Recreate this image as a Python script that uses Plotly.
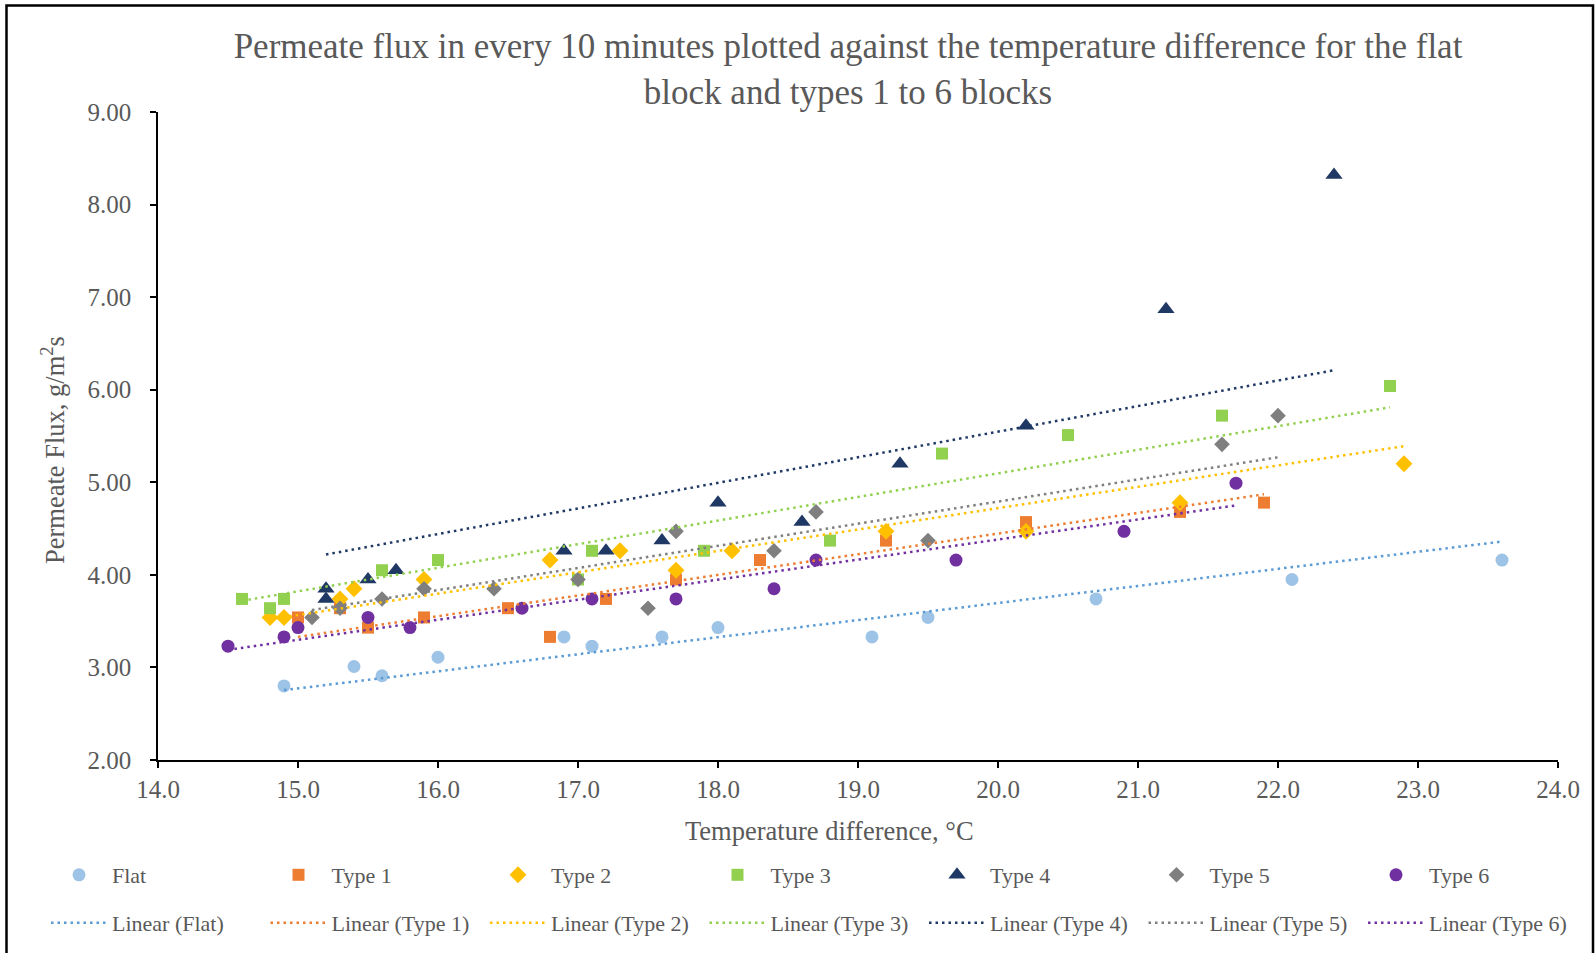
import plotly.graph_objects as go

# ---------------- data ----------------
series_names = ["Flat", "Type 1", "Type 2", "Type 3", "Type 4", "Type 5", "Type 6"]

flat_x = [14.9, 15.4, 15.6, 16.0, 16.9, 17.1, 17.6, 18.0, 19.1, 19.5, 20.7, 22.1, 23.6]
flat_y = [2.80, 3.01, 2.91, 3.11, 3.33, 3.23, 3.33, 3.43, 3.33, 3.54, 3.74, 3.95, 4.16]

type1_x = [15.0, 15.3, 15.5, 15.9, 16.5, 16.8, 17.2, 17.7, 18.3, 19.2, 20.2, 21.3, 21.9]
type1_y = [3.54, 3.64, 3.43, 3.54, 3.64, 3.33, 3.74, 3.95, 4.16, 4.37, 4.57, 4.68, 4.78]

type2_x = [14.8, 14.9, 15.3, 15.4, 15.9, 16.8, 17.3, 17.7, 18.1, 19.2, 20.2, 21.3, 22.9]
type2_y = [3.54, 3.54, 3.74, 3.85, 3.95, 4.16, 4.26, 4.05, 4.26, 4.47, 4.47, 4.78, 5.20]

type3_x = [14.6, 14.8, 14.9, 15.6, 16.0, 17.0, 17.1, 17.9, 18.8, 19.6, 20.5, 21.6, 22.8]
type3_y = [3.74, 3.64, 3.74, 4.05, 4.16, 3.95, 4.26, 4.26, 4.37, 5.31, 5.51, 5.72, 6.04]

type4_x = [15.2, 15.2, 15.5, 15.7, 16.9, 17.2, 17.6, 18.0, 18.6, 19.3, 20.2, 21.2, 22.4]
type4_y = [3.85, 3.74, 3.95, 4.05, 4.26, 4.26, 4.37, 4.78, 4.57, 5.20, 5.61, 6.87, 8.32]

type5_x = [15.1, 15.3, 15.6, 15.9, 16.4, 17.0, 17.5, 17.7, 18.4, 18.7, 19.5, 21.6, 22.0]
type5_y = [3.54, 3.64, 3.74, 3.85, 3.85, 3.95, 3.64, 4.47, 4.26, 4.68, 4.37, 5.41, 5.72]

type6_x = [14.5, 14.9, 15.0, 15.5, 15.8, 16.6, 17.1, 17.7, 18.4, 18.7, 19.7, 20.9, 21.7]
type6_y = [3.23, 3.33, 3.43, 3.54, 3.43, 3.64, 3.74, 3.74, 3.85, 4.16, 4.16, 4.47, 4.99]

# linear trendline values at the first and last x of each series
trend_start_y = [2.755, 3.33, 3.52, 3.72, 4.22, 3.62, 3.19]
trend_end_y = [4.36, 4.87, 5.39, 5.81, 6.21, 5.27, 4.75]

x_tick_vals = [14, 15, 16, 17, 18, 19, 20, 21, 22, 23, 24]
y_tick_vals = [2, 3, 4, 5, 6, 7, 8, 9]

title_text = ("Permeate flux in every 10 minutes plotted against the temperature difference for the flat"
              "<br>block and types 1 to 6 blocks")
x_title = "Temperature difference, °C"
y_title = "Permeate Flux, g/m<sup>2</sup>s"

# ---------------- styles ----------------
xs = [flat_x, type1_x, type2_x, type3_x, type4_x, type5_x, type6_x]
ys = [flat_y, type1_y, type2_y, type3_y, type4_y, type5_y, type6_y]
marker_colors = ["#9DC3E6", "#ED7D31", "#FFC000", "#92D050", "#1F3864", "#7F7F7F", "#7030A0"]
line_colors = ["#5B9BD5", "#ED7D31", "#FFC000", "#92D050", "#1F3864", "#7F7F7F", "#7030A0"]
symbols = ["circle", "square", "diamond", "square", "triangle-up", "diamond", "circle"]
sizes = [13, 12, 13, 12, 15, 12, 13]
# which legend box holds each column (two boxes per row)
marker_legends = ["legend", "legend", "legend", "legend", "legend3", "legend3", "legend3"]
line_legends = ["legend2", "legend2", "legend2", "legend2", "legend4", "legend4", "legend4"]

FONT = "Liberation Serif"
TXT = "#595959"

fig = go.Figure()

for name, x, y, c, s, sz, lg in zip(series_names, xs, ys, marker_colors, symbols, sizes, marker_legends):
    fig.add_trace(go.Scatter(
        x=x, y=y, mode="markers", name=name,
        marker=dict(color=c, symbol=s, size=sz, line=dict(width=0)),
        legend=lg,
    ))

for name, x, y0, y1, c, lg in zip(series_names, xs, trend_start_y, trend_end_y, line_colors, line_legends):
    fig.add_trace(go.Scatter(
        x=[min(x), max(x)], y=[y0, y1], mode="lines",
        name=f"Linear ({name})",
        line=dict(color=c, width=2.5, dash="2.5px,4px"),
        legend=lg,
    ))

# plot-area geometry (pixels)
W, H = 1595, 953
L, R, T, B = 158, 37, 112, 193
pw, ph = W - L - R, H - T - B

def px_x(px):
    return (px - L) / pw

def px_y(py):
    return (H - B - py) / ph

COL = 219.5  # legend column spacing in px

legend_common = dict(
    orientation="h", xref="container", yref="container",
    xanchor="left", yanchor="top",
    entrywidth=COL - 71, entrywidthmode="pixels", itemwidth=56,
    bgcolor="rgba(0,0,0,0)", borderwidth=0,
    font=dict(family=FONT, size=22, color=TXT),
)

fig.update_layout(
    width=W, height=H,
    margin=dict(l=L, r=R, t=T, b=B, autoexpand=False),
    paper_bgcolor="white", plot_bgcolor="white",
    font=dict(family=FONT, color=TXT),
    title=dict(
        text=title_text,
        x=848 / W, xref="container", xanchor="center",
        y=1 - 58 / H, yref="container", yanchor="top",
        font=dict(family=FONT, size=35, color=TXT),
    ),
    xaxis=dict(
        range=[14, 24], tickvals=x_tick_vals, tickformat=".1f",
        showgrid=False, zeroline=False,
        showline=True, linecolor="black", linewidth=1.5,
        ticks="outside", ticklen=6, tickcolor="black", tickwidth=1.5,
        tickfont=dict(family=FONT, size=25, color=TXT),
        ticklabelstandoff=0,
        automargin=False,
    ),
    yaxis=dict(
        range=[2, 9], tickvals=y_tick_vals, tickformat=".2f",
        showgrid=False, zeroline=False,
        showline=True, linecolor="black", linewidth=1.5,
        ticks="outside", ticklen=6, tickcolor="black", tickwidth=1.5,
        tickfont=dict(family=FONT, size=25, color=TXT),
        ticklabelstandoff=14,
        automargin=False,
    ),
    annotations=[
        dict(text=x_title, xref="paper", yref="paper",
             x=px_x(829.5), y=px_y(831), xanchor="center", yanchor="middle",
             showarrow=False, font=dict(family=FONT, size=26.5, color=TXT)),
        dict(text=y_title, xref="paper", yref="paper", textangle=-90,
             x=px_x(53), y=px_y(450), xanchor="center", yanchor="middle",
             showarrow=False, font=dict(family=FONT, size=26.5, color=TXT)),
    ],
    legend=dict(x=46 / W, y=1 - 854 / H, **legend_common),
    legend3=dict(x=(46 + 4 * COL) / W, y=1 - 854 / H, **legend_common),
    legend2=dict(x=46 / W, y=1 - 902 / H, **legend_common),
    legend4=dict(x=(46 + 4 * COL) / W, y=1 - 902 / H, **legend_common),
    shapes=[dict(
        type="rect", xref="paper", yref="paper",
        x0=px_x(6.5), x1=px_x(1593), y0=px_y(990), y1=px_y(5.5),
        line=dict(color="black", width=2.5), fillcolor="rgba(0,0,0,0)",
        layer="above",
    )],
)

fig.write_html("out.html")
